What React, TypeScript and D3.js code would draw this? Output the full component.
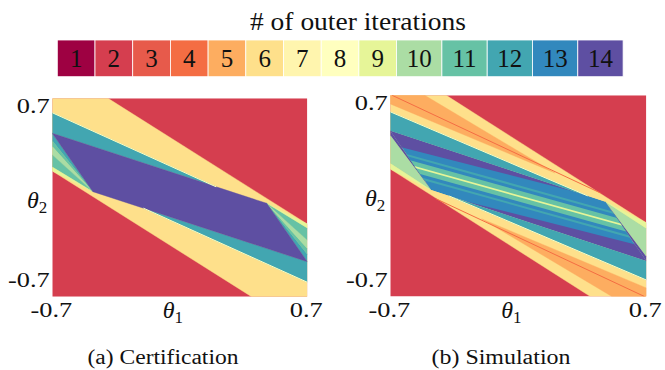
import * as d3 from 'd3'

type Pt = [number, number]
type Region = { level: number; pts: Pt[] }
type Seg = { level: number; pts: Pt[]; w: number }

// legend
const LEVELS = [1, 2, 3, 4, 5, 6, 7, 8, 9, 10, 11, 12, 13, 14]
const LEVEL_COLORS = [
  '#9e0142', '#d53e4f', '#e75a4b', '#f46d43', '#fdad60', '#fee08b', '#fff5ae',
  '#ffffbf', '#e6f598', '#abdda4', '#66c2a5', '#42a6b1', '#3288bd', '#5e4fa2',
]
const LEGEND_TITLE = '# of outer iterations'

const DOMAIN: Pt = [-0.7, 0.7]
const TICKS = [-0.7, 0.7]
const TICK_LABELS = ['-0.7', '0.7']
const CAPTIONS = ['(a) Certification', '(b) Simulation']

// (a) certification – regions in (theta1, theta2), drawn in order
const CERT_REGIONS: Region[] = [
  { level: 6, pts: [[-0.7, 0.7], [-0.394, 0.7], [0.7, -0.187], [0.7, -0.7], [0.394, -0.7], [-0.7, 0.187]] },
  { level: 12, pts: [[-0.7, 0.598], [-0.7, 0.453], [0.2, 0.075]] },
  { level: 12, pts: [[0.7, -0.598], [0.7, -0.453], [-0.2, -0.075]] },
  { level: 12, pts: [[-0.477, 0.041], [-0.7, 0.453], [-0.7, 0.4]] },
  { level: 11, pts: [[-0.477, 0.041], [-0.7, 0.4], [-0.7, 0.36]] },
  { level: 10, pts: [[-0.477, 0.041], [-0.7, 0.36], [-0.7, 0.3]] },
  { level: 11, pts: [[-0.477, 0.041], [-0.7, 0.3], [-0.7, 0.215]] },
  { level: 9, pts: [[-0.477, 0.041], [-0.7, 0.215], [-0.7, 0.187]] },
  { level: 12, pts: [[0.477, -0.041], [0.7, -0.453], [0.7, -0.4]] },
  { level: 11, pts: [[0.477, -0.041], [0.7, -0.4], [0.7, -0.36]] },
  { level: 10, pts: [[0.477, -0.041], [0.7, -0.36], [0.7, -0.3]] },
  { level: 11, pts: [[0.477, -0.041], [0.7, -0.3], [0.7, -0.215]] },
  { level: 9, pts: [[0.477, -0.041], [0.7, -0.215], [0.7, -0.187]] },
  { level: 14, pts: [[-0.7, 0.453], [0.477, -0.041], [0.7, -0.453], [-0.477, 0.041]] },
]
const CERT_LINES: Seg[] = [
  { level: 8, w: 1, pts: [[-0.7, 0.598], [0.2, 0.075]] },
  { level: 8, w: 1, pts: [[0.7, -0.598], [-0.2, -0.075]] },
]

// (b) simulation
const SIM_REGIONS: Region[] = [
  { level: 6, pts: [[-0.7, 0.7], [-0.394, 0.7], [0.7, -0.187], [0.7, -0.7], [0.394, -0.7], [-0.7, 0.187]] },
  { level: 5, pts: [[-0.7, 0.7], [-0.512, 0.7], [0.2, 0.16], [-0.7, 0.64]] },
  { level: 5, pts: [[0.7, -0.7], [0.512, -0.7], [-0.2, -0.16], [0.7, -0.64]] },
  { level: 12, pts: [[-0.7, 0.585], [-0.7, 0.453], [0.38, 0.0]] },
  { level: 12, pts: [[0.7, -0.585], [0.7, -0.453], [-0.38, 0.0]] },
  { level: 14, pts: [[-0.477, 0.041], [-0.7, 0.453], [-0.7, 0.42]] },
  { level: 10, pts: [[-0.477, 0.041], [-0.7, 0.42], [-0.7, 0.225]] },
  { level: 9, pts: [[-0.477, 0.041], [-0.7, 0.225], [-0.7, 0.187]] },
  { level: 14, pts: [[0.477, -0.041], [0.7, -0.453], [0.7, -0.42]] },
  { level: 10, pts: [[0.477, -0.041], [0.7, -0.42], [0.7, -0.225]] },
  { level: 9, pts: [[0.477, -0.041], [0.7, -0.225], [0.7, -0.187]] },
]
const SIM_CORE: Pt[] = [[-0.7, 0.453], [0.477, -0.041], [0.7, -0.453], [-0.477, 0.041]]
const SIM_CORE_LEVEL = 13
// strips parallel to theta2 = STRIP_SLOPE * theta1, offsets lo..hi
const STRIP_SLOPE = -0.355
const SIM_STRIPS = [
  { level: 12, lo: -0.075, hi: 0.075 },
  { level: 13, lo: -0.06, hi: 0.06 },
  { level: 11, lo: -0.038, hi: 0.038 },
  { level: 9, lo: -0.006, hi: 0.006 },
]
const SIM_WEDGES: Region[] = [
  { level: 14, pts: [[-0.7, 0.453], [0.3, 0.033], [-0.64, 0.339]] },
  { level: 14, pts: [[0.7, -0.453], [-0.3, -0.033], [0.64, -0.339]] },
]
const SIM_LINES: Seg[] = [
  { level: 4, w: 1, pts: [[-0.69, 0.7], [0.45, 0.02]] },
  { level: 4, w: 1, pts: [[0.69, -0.7], [-0.45, -0.02]] },
  { level: 8, w: 1, pts: [[-0.7, 0.585], [0.38, 0.0]] },
  { level: 8, w: 1, pts: [[0.7, -0.585], [-0.38, 0.0]] },
]

const FONT = '"Times New Roman", Tinos, "Liberation Serif", Georgia, serif'
const col = (l: number) => LEVEL_COLORS[l - 1]

const PANELS = [
  { id: 'a', x0: 52.3, x1: 307.3, y0: 98.3, y1: 296.7, cap: 163, capW: 151, regions: CERT_REGIONS, lines: CERT_LINES, sim: false },
  { id: 'b', x0: 390.3, x1: 646.3, y0: 95.3, y1: 296.5, cap: 501, capW: 139, regions: SIM_REGIONS, lines: SIM_LINES, sim: true },
]

function Panel({ p, caption }: { p: typeof PANELS[number]; caption: string }) {
  const x = d3.scaleLinear().domain(DOMAIN).range([p.x0, p.x1])
  const y = d3.scaleLinear().domain(DOMAIN).range([p.y1, p.y0])
  const poly = d3.line<Pt>().x(d => x(d[0])).y(d => y(d[1])).curve(d3.curveLinearClosed)
  const seg = d3.line<Pt>().x(d => x(d[0])).y(d => y(d[1]))
  const wOf = (s: string) => (s.startsWith('-') ? 41.7 : 33)
  const txt = { fontFamily: FONT }
  const cy = (p.y0 + p.y1) / 2, cxm = (p.x0 + p.x1) / 2

  return (
    <g>
      <defs>
        <clipPath id={`clip-${p.id}`}>
          <rect x={p.x0} y={p.y0} width={p.x1 - p.x0} height={p.y1 - p.y0} />
        </clipPath>
        <clipPath id={`core-${p.id}`}>
          <path d={poly(SIM_CORE) ?? ''} />
        </clipPath>
      </defs>
      <g clipPath={`url(#clip-${p.id})`}>
        <rect x={p.x0} y={p.y0} width={p.x1 - p.x0} height={p.y1 - p.y0} fill={col(2)} />
        {p.regions.map((r, i) => (
          <path key={i} d={poly(r.pts) ?? ''} fill={col(r.level)} stroke={col(r.level)} strokeWidth={0.4} />
        ))}
        {p.sim && (
          <g clipPath={`url(#core-${p.id})`}>
            <path d={poly(SIM_CORE) ?? ''} fill={col(SIM_CORE_LEVEL)} />
            {SIM_STRIPS.map((s, i) => {
              const pts: Pt[] = [
                [DOMAIN[0], s.lo + STRIP_SLOPE * DOMAIN[0]], [DOMAIN[1], s.lo + STRIP_SLOPE * DOMAIN[1]],
                [DOMAIN[1], s.hi + STRIP_SLOPE * DOMAIN[1]], [DOMAIN[0], s.hi + STRIP_SLOPE * DOMAIN[0]],
              ]
              return <path key={i} d={poly(pts) ?? ''} fill={col(s.level)} />
            })}
            {SIM_WEDGES.map((r, i) => <path key={i} d={poly(r.pts) ?? ''} fill={col(r.level)} />)}
          </g>
        )}
        {p.lines.map((l, i) => (
          <path key={i} d={seg(l.pts) ?? ''} fill="none" stroke={col(l.level)} strokeWidth={l.w} />
        ))}
      </g>

      <g fill="#111" fontFamily={FONT}>
        <text x={p.x0 - 2.5} y={y(TICKS[1]) + 15} textAnchor="end" fontSize={22} style={txt}
          textLength={wOf(TICK_LABELS[1])} lengthAdjust="spacingAndGlyphs">{TICK_LABELS[1]}</text>
        <text x={p.x0 - 2.5} y={y(TICKS[0]) - 9.5} textAnchor="end" fontSize={22} style={txt}
          textLength={wOf(TICK_LABELS[0])} lengthAdjust="spacingAndGlyphs">{TICK_LABELS[0]}</text>
        {TICKS.map((v, i) => (
          <text key={i} x={x(v) - 1} y={p.y1 + 20.6} textAnchor="middle" fontSize={22} style={txt}
            textLength={wOf(TICK_LABELS[i])} lengthAdjust="spacingAndGlyphs">{TICK_LABELS[i]}</text>
        ))}
        <text x={p.x0 - 25.3} y={cy + 10} fontSize={24} style={txt}>
          <tspan fontStyle="italic">θ</tspan><tspan fontSize={17} dy={5}>2</tspan>
        </text>
        <text x={cxm - 17} y={p.y1 + 21.5} fontSize={24} style={txt}>
          <tspan fontStyle="italic">θ</tspan><tspan fontSize={17} dy={5}>1</tspan>
        </text>
        <text x={p.cap} y={364} textAnchor="middle" fontSize={20} style={txt}
          textLength={p.capW} lengthAdjust="spacingAndGlyphs">{caption}</text>
      </g>
    </g>
  )
}

export default function App() {
  let cx = 57.3
  const cells = LEVELS.map((lv, i) => {
    const w = String(lv).length > 1 ? 45.3 : 37.7
    const c = { lv, x: cx, w, fill: LEVEL_COLORS[i] }
    cx += w
    return c
  })
  return (
    <svg width={665} height={370} fontFamily={FONT}
      style={{ position: 'absolute', left: 0, top: 0, display: 'block', background: '#fff', fontFamily: FONT }}>
      <text x={250} y={30} fontSize={25} style={{ fontFamily: FONT }} fill="#111"
        textLength={216} lengthAdjust="spacingAndGlyphs">{LEGEND_TITLE}</text>
      {cells.map(c => (
        <g key={c.lv}>
          <rect x={c.x} y={40} width={c.w} height={36.7} fill={c.fill} stroke="#fff" strokeWidth={0.8} />
          <text x={c.x + c.w / 2} y={67.3} textAnchor="middle" fontSize={25} fill="#111"
            style={{ fontFamily: FONT }}>{c.lv}</text>
        </g>
      ))}
      {PANELS.map((p, i) => <Panel key={p.id} p={p} caption={CAPTIONS[i]} />)}
    </svg>
  )
}
